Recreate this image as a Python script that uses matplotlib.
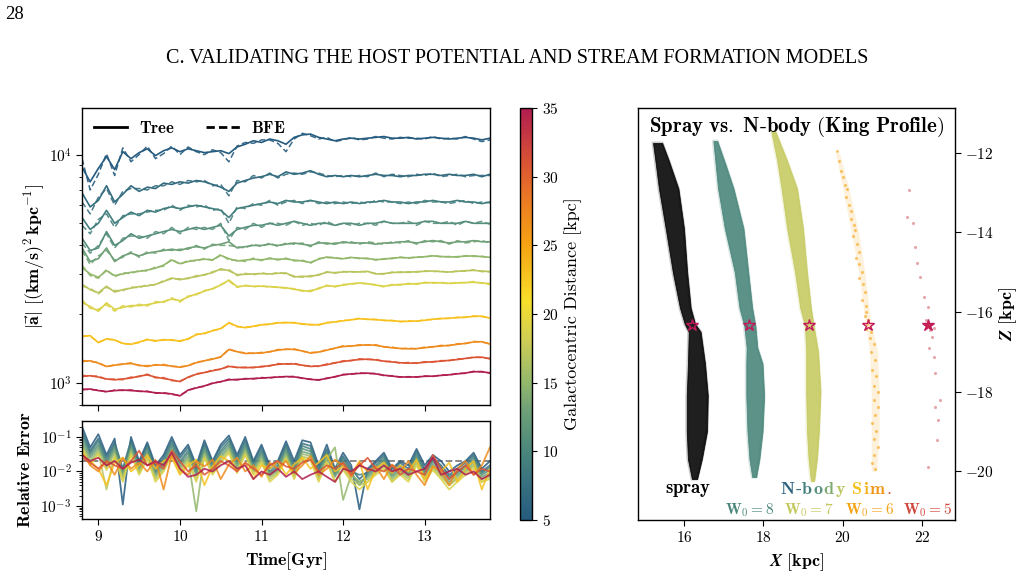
import numpy as np
import matplotlib
matplotlib.use("Agg")
from matplotlib import pyplot as plt
from matplotlib import colors as mcolors
from matplotlib.lines import Line2D
from matplotlib.offsetbox import TextArea, HPacker, AnnotationBbox

plt.rcParams["font.family"] = "serif"
plt.rcParams["font.serif"] = ["cmr10", "DejaVu Serif"]
plt.rcParams["mathtext.fontset"] = "cm"
plt.rcParams["axes.formatter.use_mathtext"] = True
plt.rcParams["axes.linewidth"] = 1.0

# ---------------- data ----------------
time_gyr = np.round(np.arange(8.8, 13.81, 0.1), 1)
radii = [5, 7, 9, 11, 13, 15, 17, 19, 23, 27, 31, 35]

tree_r05 = [8800, 7600, 8700, 9800, 8600, 10300, 9600, 10200, 10600, 9900,
            10400, 10700, 10300, 10600, 10400, 10200, 10300, 10400, 10100, 10800,
            11100, 11500, 11300, 11700, 11500, 11100, 11900, 12200, 12300, 11900,
            11700, 11500, 11700, 11800, 11700, 11800, 11900, 12000, 11800, 11800,
            11900, 11700, 11800, 11900, 11800, 11700, 11800, 11900, 11800, 11600,
            11800]
bfe_r05 = [9600, 7000, 8200, 10100, 8100, 10700, 9300, 10000, 10900, 9600,
           10100, 10900, 10000, 10800, 10300, 10000, 10500, 10200, 9300, 10900,
           11300, 11200, 11600, 11600, 11200, 10300, 11700, 12400, 12100, 11700,
           11900, 11400, 11600, 11900, 11600, 11700, 12000, 11800, 11700, 11900,
           11800, 11800, 11700, 12000, 11700, 11800, 11700, 12000, 11700, 11400,
           11600]
tree_r07 = [6800, 5900, 6300, 7300, 6200, 6700, 7300, 6900, 7200, 7100,
            7500, 7400, 7600, 7500, 7700, 7600, 7400, 7200, 6900, 7500,
            7700, 7900, 8000, 8200, 8000, 8400, 8200, 8300, 8500, 8200,
            8000, 8100, 8000, 8100, 8000, 8100, 8200, 8100, 8100, 8000,
            8100, 8100, 8200, 8200, 8100, 8200, 8100, 8100, 8200, 8000,
            8200]
bfe_r07 = [6200, 5500, 6500, 7100, 6000, 6900, 7100, 7100, 7000, 7300,
           7300, 7600, 7400, 7700, 7600, 7700, 7300, 7400, 6600, 7700,
           7600, 8100, 7900, 8300, 7900, 8200, 8300, 8200, 8400, 8300,
           8100, 8000, 8100, 8000, 8100, 8000, 8300, 8000, 8200, 8100,
           8000, 8200, 8100, 8300, 8000, 8100, 8200, 8000, 8100, 8100,
           8100]
tree_r09 = [5300, 4700, 5000, 5700, 5000, 5300, 5600, 5400, 5700, 5600,
            5800, 5900, 5800, 5900, 6000, 5900, 5800, 5700, 5300, 5800,
            5900, 6000, 6100, 6200, 6100, 6300, 6200, 6200, 6300, 6200,
            6100, 6200, 6100, 6200, 6100, 6200, 6200, 6300, 6200, 6200,
            6100, 6200, 6200, 6300, 6200, 6200, 6300, 6200, 6200, 6100,
            6200]
bfe_r09 = [4900, 4500, 5200, 5500, 4800, 5400, 5500, 5500, 5600, 5700,
           5700, 6000, 5700, 6000, 5900, 6000, 5700, 5800, 5000, 5900,
           5800, 6100, 6000, 6300, 6000, 6200, 6300, 6100, 6300, 6100,
           6200, 6100, 6200, 6100, 6200, 6100, 6300, 6200, 6200, 6100,
           6200, 6100, 6300, 6200, 6200, 6100, 6200, 6300, 6100, 6200,
           6150]
tree_r11 = [4300, 3800, 3900, 4600, 4000, 4200, 4500, 4300, 4400, 4500,
            4600, 4700, 4600, 4700, 4800, 4700, 4800, 4900, 4400, 4700,
            4800, 4900, 4900, 5000, 4900, 5000, 5100, 5000, 4900, 5000,
            5000, 4900, 5000, 5000, 4900, 5000, 5000, 5100, 5000, 5000,
            5000, 5000, 5100, 5100, 5000, 5000, 5000, 5100, 5000, 5000,
            5000]
bfe_r11 = [4100, 3700, 4000, 4500, 3900, 4300, 4400, 4400, 4300, 4600,
           4500, 4800, 4500, 4800, 4700, 4800, 4700, 5000, 4200, 4800,
           4700, 5000, 4800, 5000, 5000, 4900, 5100, 4900, 5000, 4900,
           5100, 4900, 5000, 4900, 5000, 5000, 4900, 5100, 5000, 5000,
           5100, 4900, 5100, 5000, 5000, 5100, 4900, 5100, 5000, 5100,
           4950]
tree_r13 = [3900, 3400, 3500, 3900, 3400, 3600, 3700, 3600, 3700, 3750,
            3800, 3850, 3800, 3900, 3950, 3900, 4000, 4050, 4150, 3900,
            3950, 4000, 4000, 4050, 4000, 4050, 4100, 4050, 4000, 4100,
            4100, 4050, 4150, 4100, 4100, 4100, 4050, 4100, 4100, 4150,
            4150, 4100, 4150, 4200, 4150, 4100, 4150, 4150, 4200, 4150,
            4150]
bfe_r13 = [3800, 3300, 3600, 3800, 3450, 3550, 3750, 3550, 3750, 3700,
           3850, 3800, 3850, 3850, 4000, 3850, 4050, 4000, 4000, 3950,
           3900, 4050, 3950, 4100, 3950, 4100, 4050, 4100, 3950, 4150,
           4050, 4100, 4100, 4150, 4050, 4150, 4100, 4050, 4150, 4100,
           4200, 4050, 4200, 4150, 4200, 4050, 4200, 4100, 4150, 4200,
           4100]
tree_r15 = [3200, 3000, 2900, 3100, 2950, 3000, 3050, 3080, 3120, 3180,
            3280, 3450, 3330, 3400, 3450, 3480, 3460, 3620, 3500, 3420,
            3450, 3480, 3460, 3500, 3480, 3490, 3450, 3420, 3370, 3480,
            3560, 3520, 3500, 3540, 3520, 3500, 3470, 3480, 3520, 3540,
            3530, 3550, 3570, 3600, 3580, 3560, 3570, 3590, 3600, 3570,
            3550]
bfe_r15 = [3280, 2950, 2870, 3140, 2910, 3040, 3010, 3110, 3090, 3220,
           3240, 3490, 3300, 3440, 3420, 3510, 3440, 3650, 3450, 3450,
           3400, 3520, 3430, 3530, 3450, 3520, 3420, 3450, 3340, 3510,
           3530, 3550, 3480, 3560, 3500, 3520, 3450, 3500, 3500, 3560,
           3510, 3570, 3550, 3620, 3560, 3580, 3550, 3610, 3580, 3590,
           3530]
tree_r17 = [2700, 2560, 2480, 2650, 2500, 2560, 2600, 2640, 2660, 2700,
            2780, 2880, 2830, 2880, 2920, 2980, 3040, 3160, 3100, 2980,
            2990, 3000, 3010, 3000, 3020, 3030, 2910, 2930, 2920, 2980,
            3050, 3040, 3060, 3070, 3060, 3080, 3000, 3010, 3040, 3060,
            3050, 3070, 3080, 3090, 3070, 3060, 3080, 3100, 3110, 3090,
            3075]
bfe_r17 = [2650, 2600, 2450, 2620, 2540, 2530, 2630, 2610, 2690, 2680,
           2810, 2850, 2860, 2860, 2950, 2960, 3070, 3120, 3140, 2950,
           3020, 2970, 3040, 2980, 3050, 3000, 2940, 2900, 2950, 2960,
           3070, 3020, 3080, 3050, 3080, 3060, 3020, 2990, 3060, 3040,
           3070, 3050, 3100, 3070, 3090, 3040, 3100, 3080, 3130, 3070,
           3060]
tree_r19 = [2250, 2160, 2060, 2240, 2100, 2140, 2180, 2180, 2200, 2240,
            2270, 2330, 2290, 2380, 2450, 2520, 2590, 2680, 2820, 2640,
            2660, 2650, 2650, 2640, 2620, 2610, 2570, 2540, 2513, 2600,
            2660, 2650, 2680, 2720, 2735, 2720, 2680, 2650, 2680, 2700,
            2710, 2720, 2740, 2750, 2740, 2730, 2740, 2750, 2760, 2740,
            2720]
bfe_r19 = [2310, 2120, 2100, 2200, 2060, 2180, 2150, 2210, 2170, 2270,
           2250, 2360, 2260, 2400, 2430, 2540, 2570, 2700, 2790, 2620,
           2680, 2630, 2670, 2620, 2640, 2590, 2590, 2520, 2540, 2580,
           2680, 2630, 2700, 2700, 2750, 2700, 2700, 2630, 2700, 2680,
           2730, 2700, 2760, 2730, 2760, 2710, 2760, 2740, 2780, 2730,
           2700]
tree_r23 = [1596, 1610, 1500, 1560, 1540, 1490, 1475, 1510, 1546, 1530,
            1540, 1545, 1520, 1560, 1625, 1650, 1690, 1730, 1830, 1770,
            1745, 1770, 1795, 1810, 1830, 1840, 1830, 1815, 1795, 1800,
            1830, 1850, 1870, 1890, 1910, 1900, 1890, 1880, 1870, 1860,
            1860, 1865, 1880, 1900, 1910, 1920, 1930, 1940, 1955, 1960,
            1920]
bfe_r23 = [1610, 1600, 1510, 1550, 1550, 1480, 1480, 1500, 1555, 1520,
           1550, 1535, 1530, 1550, 1635, 1640, 1700, 1720, 1840, 1760,
           1755, 1760, 1805, 1800, 1840, 1830, 1840, 1805, 1805, 1790,
           1840, 1845, 1880, 1880, 1920, 1895, 1900, 1875, 1880, 1850,
           1870, 1860, 1890, 1895, 1920, 1915, 1940, 1935, 1965, 1950,
           1930]
tree_r27 = [1240, 1250, 1220, 1180, 1195, 1210, 1215, 1195, 1180, 1200,
            1195, 1185, 1170, 1190, 1225, 1250, 1270, 1300, 1400, 1370,
            1345, 1350, 1350, 1370, 1390, 1405, 1400, 1380, 1350, 1365,
            1390, 1420, 1443, 1450, 1460, 1468, 1460, 1440, 1425, 1415,
            1410, 1412, 1425, 1440, 1450, 1460, 1475, 1490, 1510, 1515,
            1478]
bfe_r27 = [1255, 1240, 1230, 1175, 1200, 1205, 1225, 1190, 1190, 1195,
           1205, 1180, 1178, 1185, 1235, 1245, 1280, 1295, 1410, 1365,
           1355, 1345, 1360, 1365, 1400, 1400, 1410, 1375, 1360, 1360,
           1400, 1415, 1455, 1445, 1470, 1462, 1470, 1435, 1435, 1410,
           1420, 1408, 1435, 1435, 1460, 1455, 1485, 1485, 1520, 1510,
           1485]
tree_r31 = [1066, 1075, 1060, 1040, 1031, 1040, 1050, 1070, 1084, 1060,
            1045, 1030, 1013, 1060, 1090, 1110, 1130, 1150, 1180, 1170,
            1165, 1170, 1175, 1190, 1205, 1212, 1210, 1195, 1180, 1185,
            1200, 1225, 1240, 1255, 1265, 1270, 1260, 1245, 1235, 1225,
            1220, 1222, 1230, 1238, 1245, 1255, 1265, 1280, 1292, 1296,
            1274]
bfe_r31 = [1080, 1068, 1072, 1035, 1040, 1032, 1060, 1065, 1092, 1052,
           1055, 1022, 1020, 1052, 1098, 1105, 1140, 1145, 1190, 1165,
           1172, 1165, 1182, 1185, 1215, 1205, 1220, 1190, 1188, 1180,
           1210, 1220, 1250, 1250, 1275, 1265, 1268, 1240, 1242, 1220,
           1228, 1218, 1238, 1233, 1252, 1250, 1275, 1275, 1300, 1290,
           1280]
tree_r35 = [932, 940, 925, 916, 925, 930, 925, 920, 915, 905,
            901, 895, 877, 930, 950, 970, 995, 1013, 1031, 1035,
            1040, 1045, 1049, 1055, 1060, 1066, 1062, 1050, 1035, 1031,
            1045, 1065, 1084, 1095, 1100, 1103, 1095, 1080, 1070, 1062,
            1060, 1062, 1068, 1070, 1078, 1085, 1095, 1105, 1118, 1121,
            1103]
bfe_r35 = [940, 935, 930, 912, 930, 926, 932, 917, 920, 900,
           906, 890, 882, 925, 955, 965, 1000, 1010, 1038, 1030,
           1045, 1040, 1055, 1050, 1065, 1062, 1068, 1046, 1040, 1027,
           1050, 1060, 1090, 1090, 1106, 1098, 1100, 1076, 1075, 1058,
           1065, 1058, 1073, 1066, 1083, 1082, 1100, 1100, 1124, 1116,
           1108]

err_r05 = [0.20, 0.05, 0.12, 0.03, 0.09, 0.0011, 0.10, 0.02, 0.07, 0.015,
           0.03, 0.10, 0.03, 0.06, 0.015, 0.08, 0.02, 0.06, 0.11, 0.03,
           0.10, 0.02, 0.06, 0.015, 0.02, 0.075, 0.02, 0.08, 0.07, 0.015,
           0.06, 0.012, 0.035, 0.015, 0.0008, 0.012, 0.02, 0.035, 0.012, 0.02,
           0.015, 0.045, 0.015, 0.03, 0.02, 0.01, 0.015, 0.02, 0.035, 0.012,
           0.02]
err_r07 = [0.15, 0.04, 0.09, 0.025, 0.07, 0.012, 0.08, 0.018, 0.06, 0.012,
           0.025, 0.08, 0.025, 0.05, 0.012, 0.065, 0.018, 0.05, 0.09, 0.025,
           0.08, 0.018, 0.05, 0.012, 0.018, 0.06, 0.015, 0.065, 0.055, 0.012,
           0.045, 0.01, 0.028, 0.012, 0.006, 0.01, 0.018, 0.03, 0.01, 0.018,
           0.012, 0.038, 0.012, 0.025, 0.015, 0.008, 0.012, 0.018, 0.03, 0.01,
           0.015]
err_r09 = [0.12, 0.035, 0.075, 0.02, 0.06, 0.01, 0.065, 0.015, 0.05, 0.01,
           0.02, 0.065, 0.02, 0.04, 0.01, 0.055, 0.015, 0.04, 0.075, 0.02,
           0.065, 0.015, 0.04, 0.01, 0.015, 0.05, 0.012, 0.055, 0.045, 0.01,
           0.038, 0.009, 0.024, 0.01, 0.008, 0.009, 0.015, 0.026, 0.009, 0.015,
           0.01, 0.032, 0.01, 0.022, 0.013, 0.007, 0.01, 0.015, 0.026, 0.009,
           0.013]
err_r11 = [0.09, 0.03, 0.06, 0.018, 0.05, 0.009, 0.055, 0.013, 0.042, 0.009,
           0.018, 0.055, 0.017, 0.034, 0.009, 0.045, 0.013, 0.034, 0.062, 0.017,
           0.055, 0.013, 0.034, 0.009, 0.013, 0.042, 0.01, 0.046, 0.038, 0.009,
           0.032, 0.008, 0.02, 0.009, 0.004, 0.008, 0.013, 0.022, 0.008, 0.013,
           0.009, 0.027, 0.009, 0.019, 0.011, 0.006, 0.009, 0.013, 0.022, 0.008,
           0.011]
err_r13 = [0.07, 0.025, 0.05, 0.015, 0.042, 0.008, 0.046, 0.011, 0.035, 0.008,
           0.015, 0.046, 0.014, 0.028, 0.008, 0.038, 0.011, 0.028, 0.052, 0.014,
           0.046, 0.011, 0.028, 0.008, 0.011, 0.035, 0.009, 0.038, 0.032, 0.008,
           0.027, 0.007, 0.017, 0.008, 0.005, 0.007, 0.011, 0.019, 0.007, 0.011,
           0.008, 0.023, 0.008, 0.016, 0.009, 0.005, 0.008, 0.011, 0.019, 0.007,
           0.009]
err_r15 = [0.06, 0.02, 0.042, 0.013, 0.035, 0.007, 0.04, 0.01, 0.03, 0.007,
           0.013, 0.04, 0.012, 0.024, 0.0007, 0.032, 0.01, 0.024, 0.045, 0.012,
           0.04, 0.01, 0.024, 0.007, 0.01, 0.03, 0.008, 0.032, 0.028, 0.007,
           0.023, 0.05, 0.0015, 0.008, 0.005, 0.006, 0.01, 0.016, 0.006, 0.01,
           0.007, 0.02, 0.007, 0.014, 0.008, 0.004, 0.007, 0.01, 0.016, 0.006,
           0.008]
err_r17 = [0.05, 0.017, 0.036, 0.003, 0.03, 0.006, 0.034, 0.009, 0.026, 0.006,
           0.011, 0.034, 0.01, 0.02, 0.006, 0.027, 0.009, 0.02, 0.038, 0.01,
           0.034, 0.009, 0.02, 0.006, 0.009, 0.026, 0.007, 0.027, 0.024, 0.006,
           0.02, 0.005, 0.012, 0.006, 0.004, 0.005, 0.009, 0.014, 0.005, 0.009,
           0.006, 0.017, 0.006, 0.012, 0.007, 0.004, 0.006, 0.009, 0.014, 0.005,
           0.007]
err_r19 = [0.045, 0.015, 0.032, 0.011, 0.026, 0.005, 0.03, 0.008, 0.023, 0.005,
           0.01, 0.03, 0.009, 0.018, 0.005, 0.024, 0.008, 0.018, 0.034, 0.009,
           0.03, 0.008, 0.018, 0.005, 0.008, 0.023, 0.006, 0.024, 0.021, 0.005,
           0.018, 0.005, 0.011, 0.005, 0.003, 0.005, 0.008, 0.012, 0.005, 0.008,
           0.005, 0.015, 0.005, 0.011, 0.006, 0.003, 0.005, 0.008, 0.012, 0.005,
           0.006]
err_r23 = [0.03, 0.02, 0.012, 0.004, 0.018, 0.025, 0.01, 0.015, 0.03, 0.012,
           0.02, 0.025, 0.008, 0.015, 0.022, 0.004, 0.014, 0.028, 0.02, 0.01,
           0.018, 0.006, 0.015, 0.012, 0.02, 0.008, 0.016, 0.025, 0.012, 0.018,
           0.03, 0.01, 0.014, 0.008, 0.02, 0.003, 0.012, 0.018, 0.009, 0.015,
           0.01, 0.022, 0.006, 0.014, 0.01, 0.018, 0.005, 0.012, 0.02, 0.003,
           0.012]
err_r27 = [0.035, 0.015, 0.01, 0.02, 0.008, 0.025, 0.012, 0.018, 0.01, 0.022,
           0.003, 0.03, 0.012, 0.008, 0.02, 0.014, 0.022, 0.006, 0.016, 0.025,
           0.01, 0.015, 0.007, 0.018, 0.012, 0.02, 0.009, 0.015, 0.028, 0.008,
           0.012, 0.022, 0.015, 0.007, 0.018, 0.01, 0.014, 0.006, 0.016, 0.01,
           0.02, 0.008, 0.004, 0.014, 0.01, 0.004, 0.012, 0.02, 0.008, 0.015,
           0.05]
err_r31 = [0.025, 0.018, 0.012, 0.02, 0.015, 0.012, 0.02, 0.04, 0.015, 0.018,
           0.012, 0.04, 0.02, 0.01, 0.015, 0.008, 0.012, 0.02, 0.015, 0.01,
           0.018, 0.012, 0.008, 0.015, 0.02, 0.014, 0.012, 0.018, 0.022, 0.01,
           0.015, 0.012, 0.018, 0.008, 0.015, 0.025, 0.012, 0.01, 0.015, 0.008,
           0.012, 0.01, 0.008, 0.03, 0.012, 0.006, 0.01, 0.015, 0.008, 0.012,
           0.01]
err_r35 = [0.03, 0.02, 0.025, 0.015, 0.02, 0.012, 0.018, 0.022, 0.015, 0.02,
           0.015, 0.035, 0.012, 0.007, 0.008, 0.012, 0.01, 0.015, 0.02, 0.012,
           0.015, 0.006, 0.01, 0.008, 0.012, 0.007, 0.01, 0.006, 0.008, 0.01,
           0.007, 0.005, 0.012, 0.01, 0.015, 0.012, 0.01, 0.015, 0.01, 0.012,
           0.008, 0.01, 0.012, 0.025, 0.008, 0.01, 0.012, 0.008, 0.01, 0.006,
           0.008]

tree_all = [tree_r05, tree_r07, tree_r09, tree_r11, tree_r13, tree_r15,
            tree_r17, tree_r19, tree_r23, tree_r27, tree_r31, tree_r35]
bfe_all = [bfe_r05, bfe_r07, bfe_r09, bfe_r11, bfe_r13, bfe_r15,
           bfe_r17, bfe_r19, bfe_r23, bfe_r27, bfe_r31, bfe_r35]
err_all = [err_r05, err_r07, err_r09, err_r11, err_r13, err_r15,
           err_r17, err_r19, err_r23, err_r27, err_r31, err_r35]

# stream outlines (X, Z in kpc)
spray_z = [-11.75, -12.2, -12.9, -13.9, -15.0, -15.9, -16.3, -16.5, -17.3, -18.1, -19.0, -19.7, -20.2]
spray_xl = [15.22, 15.28, 15.37, 15.54, 15.72, 15.9, 16.02, 16.12, 16.1, 16.07, 16.07, 16.1, 16.2]
spray_xr = [15.45, 15.62, 15.86, 16.0, 16.08, 16.17, 16.28, 16.42, 16.53, 16.6, 16.58, 16.45, 16.33]
w8_z = [-11.7, -12.3, -12.9, -13.9, -15.0, -15.9, -16.35, -16.9, -17.3, -18.1, -19.0, -19.7, -20.15]
w8_xl = [16.74, 16.8, 16.86, 17.03, 17.28, 17.4, 17.52, 17.58, 17.57, 17.57, 17.6, 17.65, 17.72]
w8_xr = [16.84, 17.05, 17.25, 17.5, 17.62, 17.72, 17.8, 17.85, 17.98, 18.02, 17.98, 17.9, 17.82]
w7_z = [-11.45, -12.2, -12.9, -13.9, -15.0, -15.9, -16.35, -17.0, -18.0, -19.0, -19.7, -20.25]
w7_xl = [18.2, 18.35, 18.46, 18.6, 18.8, 18.93, 19.05, 19.08, 19.08, 19.1, 19.14, 19.2]
w7_xr = [18.3, 18.6, 18.85, 19.0, 19.1, 19.2, 19.27, 19.38, 19.44, 19.4, 19.35, 19.28]
w6_z = [-12.0, -13.0, -14.0, -15.0, -15.9, -16.35, -17.0, -18.0, -19.0, -20.0]
w6_xl = [19.82, 20.02, 20.22, 20.4, 20.52, 20.58, 20.68, 20.72, 20.72, 20.72]
w6_xr = [19.92, 20.18, 20.4, 20.56, 20.66, 20.74, 20.88, 20.92, 20.92, 20.86]
w6_pts_x = [19.85, 19.9, 19.95, 20.0, 20.05, 20.12, 20.08, 20.15, 20.22, 20.2, 20.28, 20.32,
            20.25, 20.35, 20.4, 20.33, 20.42, 20.48, 20.4, 20.5, 20.55, 20.48, 20.58, 20.6,
            20.55, 20.65, 20.62, 20.68, 20.6, 20.72, 20.7, 20.78, 20.72, 20.82, 20.75, 20.85,
            20.78, 20.88, 20.8, 20.9, 20.82, 20.75, 20.85, 20.78, 20.88, 20.8, 20.75, 20.82]
w6_pts_z = [-11.95, -12.2, -12.45, -12.6, -12.8, -12.9, -13.1, -13.3, -13.45, -13.65, -13.8, -13.95,
            -14.1, -14.3, -14.5, -14.65, -14.8, -15.0, -15.15, -15.3, -15.5, -15.7, -15.85, -16.0,
            -16.1, -16.2, -16.3, -16.38, -16.42, -16.5, -16.65, -16.8, -17.0, -17.2, -17.45, -17.6,
            -17.85, -18.0, -18.2, -18.4, -18.6, -18.8, -19.0, -19.2, -19.4, -19.6, -19.8, -19.95]
w5_pts_x = [21.66, 21.62, 21.78, 21.83, 21.87, 21.95, 22.04, 22.16, 22.1, 22.2, 22.25,
            22.29, 22.33, 22.46, 22.33, 22.41, 22.37, 22.16, 22.18, 22.3]
w5_pts_z = [-12.93, -13.6, -13.77, -14.36, -14.77, -15.11, -15.61, -15.87, -16.2, -16.45, -16.62,
            -17.12, -17.54, -18.21, -18.38, -18.72, -19.22, -19.89, -16.9, -16.4]
prog_x = [16.2, 17.65, 19.15, 20.65, 22.15]
prog_z = [-16.33, -16.33, -16.33, -16.33, -16.33]

# ---------------- colours ----------------
cb_nodes = [5, 8, 10, 13, 15, 18, 21, 25, 28, 31, 35]
cb_colors = ["#255b7e", "#3b7480", "#4a877b", "#6fa077", "#93b86c", "#cdcc57",
             "#f7df2a", "#f6a313", "#ec7f22", "#dc5434", "#b01d4f"]
cmap = mcolors.LinearSegmentedColormap.from_list(
    "galdist", list(zip([(v - 5) / 30 for v in cb_nodes], cb_colors)))
norm = mcolors.Normalize(5, 35)

fig = plt.figure(figsize=(10.24, 5.76), dpi=100)
ax_acc = fig.add_axes([0.0801, 0.2969, 0.3984, 0.5156])
ax_err = fig.add_axes([0.0801, 0.0990, 0.3984, 0.1701])
cax = fig.add_axes([0.5078, 0.0972, 0.0117, 0.7153])
ax_s = fig.add_axes([0.6230, 0.0972, 0.3096, 0.7153])

# top panel: acceleration
for r, tr, bf in zip(radii, tree_all, bfe_all):
    c = cmap(norm(r))
    ax_acc.plot(time_gyr, tr, color=c, lw=1.2)
    ax_acc.plot(time_gyr, bf, color=c, lw=1.1, ls=(0, (4, 2)), alpha=0.9)
ax_acc.set_yscale("log")
ax_acc.set_xlim(8.8, 13.8)
ax_acc.set_ylim(800, 16000)
ax_acc.tick_params(labelbottom=False, labelsize=11)
ax_acc.set_ylabel(r"$\mathbf{|\vec{a}|\ [(km/s)^2\,kpc^{-1}]}$", fontsize=13)
handles = [Line2D([], [], color="k", lw=2), Line2D([], [], color="k", lw=2, ls=(0, (3, 1.5)))]
ax_acc.legend(handles, [r"$\mathbf{Tree}$", r"$\mathbf{BFE}$"], loc="upper left", ncol=2,
              frameon=False, fontsize=12, handlelength=2.0, handletextpad=0.7,
              columnspacing=1.9, borderaxespad=0.3)

# bottom panel: relative error
ax_err.axhline(0.02, color="gray", ls="--", lw=1.3, zorder=1)
for r, e in zip(radii, err_all):
    ax_err.plot(time_gyr, e, color=cmap(norm(r)), lw=1.3, alpha=0.85, zorder=2)
ax_err.set_yscale("log")
ax_err.set_xlim(8.8, 13.8)
ax_err.set_ylim(4.2e-4, 0.29)
ax_err.set_yticks([1e-3, 1e-2, 1e-1])
ax_err.tick_params(labelsize=11)
ax_err.set_xlabel(r"$\mathbf{Time[Gyr]}$", fontsize=13)
ax_err.set_ylabel(r"$\mathbf{Relative\ Error}$", fontsize=13)
ax_acc.yaxis.set_label_coords(-0.085, 0.5)
ax_err.yaxis.set_label_coords(-0.12, 0.5)

# colorbar
sm = plt.cm.ScalarMappable(norm=norm, cmap=cmap)
cb = fig.colorbar(sm, cax=cax)
cb.set_ticks([5, 10, 15, 20, 25, 30, 35])
cb.ax.tick_params(labelsize=11)
cb.set_label("Galactocentric Distance [kpc]", fontsize=13)

# right panel: streams (soft halo first, then core)
stream_sets = [(spray_z, spray_xl, spray_xr, "black", 0.88),
               (w8_z, w8_xl, w8_xr, cmap(norm(10)), 0.9),
               (w7_z, w7_xl, w7_xr, cmap(norm(17.5)), 0.85)]
for z, xl, xr, c, a in stream_sets:
    ax_s.fill_betweenx(z, xl, xr, facecolor="none", edgecolor=c, lw=2.2, alpha=0.2)
    ax_s.fill_betweenx(z, xl, xr, color=c, alpha=a, lw=0.6)
ax_s.fill_betweenx(w6_z, w6_xl, w6_xr, color=cmap(norm(25)), alpha=0.15, lw=0)
ax_s.scatter(w6_pts_x, w6_pts_z, s=5, color=cmap(norm(25)), alpha=0.6, lw=0)
ax_s.scatter(w5_pts_x, w5_pts_z, s=5, color=cmap(norm(33)), alpha=0.45, lw=0)
ax_s.plot(prog_x[:4], prog_z[:4], ls="none", marker="*", ms=9, mfc="none",
          mec="#c2185b", mew=1.0)
ax_s.plot(prog_x[4:], prog_z[4:], ls="none", marker="*", ms=9, mfc="#c8264a",
          mec="#c2185b", mew=1.0)

ax_s.set_xlim(14.84, 22.83)
ax_s.set_ylim(-21.23, -10.87)
ax_s.set_xticks([16, 18, 20, 22])
ax_s.set_yticks([-20, -18, -16, -14, -12])
ax_s.yaxis.tick_right()
ax_s.yaxis.set_label_position("right")
ax_s.tick_params(labelsize=11)
ax_s.set_xlabel(r"$\boldsymbol{X}\ \mathbf{[kpc]}$", fontsize=13)
ax_s.set_ylabel(r"$\boldsymbol{Z}\ \mathbf{[kpc]}$", fontsize=13, rotation=90, labelpad=2)
ax_s.text(0.5, 0.954, r"$\mathbf{Spray\ vs.\ N}$-$\mathbf{body\ (King\ Profile)}$",
          transform=ax_s.transAxes, ha="center", va="center", fontsize=15)
ax_s.text(16.1, -20.48, r"$\mathbf{spray}$", ha="center", va="center", fontsize=13.5)

pieces = [(r"$\mathbf{N}$", 6), ("-", 7), (r"$\mathbf{b}$", 9), (r"$\mathbf{o}$", 11),
          (r"$\mathbf{d}$", 14), (r"$\mathbf{y}$", 17), (r"$\mathbf{\ S}$", 23),
          (r"$\mathbf{i}$", 24), (r"$\mathbf{m}$", 26), (r"$\mathbf{.}$", 31)]
areas = [TextArea(s, textprops=dict(color=cmap(norm(v)), fontsize=13)) for s, v in pieces]
box = HPacker(children=areas, align="baseline", pad=0, sep=0)
ax_s.add_artist(AnnotationBbox(box, (19.83, -20.48), frameon=False, box_alignment=(0.5, 0.5)))

w0_labels = ["8", "7", "6", "5"]
w0_x = [17.64, 19.15, 20.67, 22.14]
w0_c = [10, 17.5, 25, 32]
for lab, x, v in zip(w0_labels, w0_x, w0_c):
    ax_s.text(x, -20.98, r"$\mathbf{W_0 = %s}$" % lab, ha="center", va="center",
              fontsize=11, color=cmap(norm(v)))

for a in (ax_acc, ax_err, ax_s):
    a.tick_params(which="major", length=4, width=0.8)
    a.tick_params(which="minor", length=2, width=0.6)

fig.text(0.005, 0.974, "28", family="Liberation Serif", fontsize=13.5, ha="left", va="center")
fig.text(0.505, 0.899, "C. VALIDATING THE HOST POTENTIAL AND STREAM FORMATION MODELS",
         family="Liberation Serif", fontsize=14.5, ha="center", va="center")

fig.savefig("out.png", dpi=100)
